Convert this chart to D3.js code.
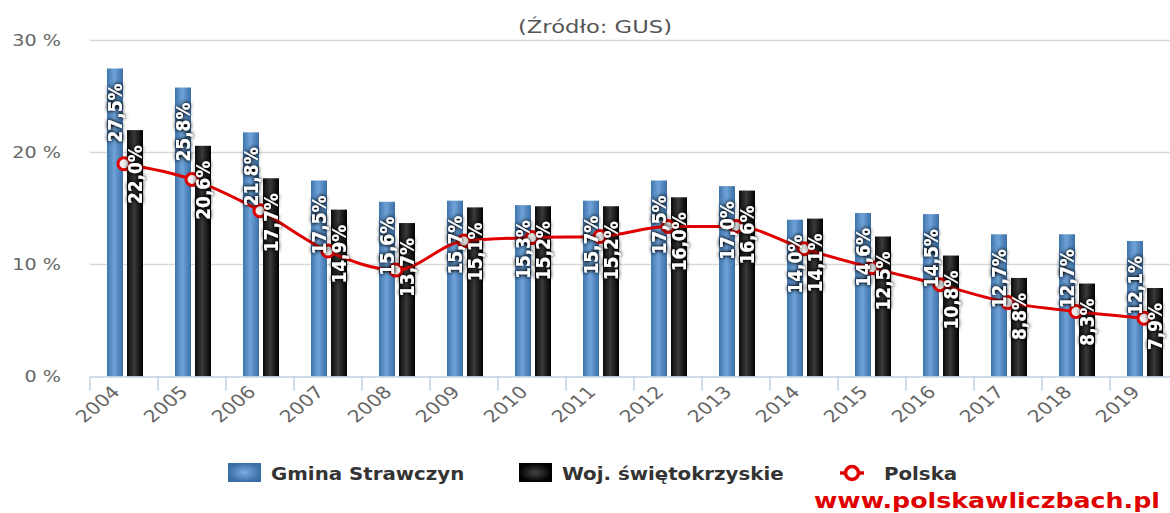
<!DOCTYPE html>
<html>
<head>
<meta charset="utf-8">
<script src="https://cdn.jsdelivr.net/npm/d3@7"></script>
<style>
html,body{margin:0;padding:0;background:#fff;}
svg{display:block;}
text{font-family:"DejaVu Sans",Verdana,sans-serif;}
</style>
</head>
<body>
<svg id="chart" width="1170" height="513"></svg>
<script>
const years = ['2004','2005','2006','2007','2008','2009','2010','2011','2012','2013','2014','2015','2016','2017','2018','2019'];
const gmina = [27.5,25.8,21.8,17.5,15.6,15.7,15.3,15.7,17.5,17.0,14.0,14.6,14.5,12.7,12.7,12.1];
const woj = [22.0,20.6,17.7,14.9,13.7,15.1,15.2,15.2,16.0,16.6,14.1,12.5,10.8,8.8,8.3,7.9];
const polska = [19.0,17.6,14.8,11.2,9.5,12.1,12.4,12.5,13.4,13.4,11.4,9.7,8.2,6.6,5.8,5.2];
const yTicks = [0,10,20,30];
const seriesNames = ['Gmina Strawczyn','Woj. świętokrzyskie','Polska'];
const titleText = '(Źródło: GUS)';
const watermark = 'www.polskawliczbach.pl';

const SX = 1.2; // horizontal stretch of the original raster
const svg = d3.select('#chart');
const defs = svg.append('defs');

const gBlue = defs.append('linearGradient').attr('id','gBlue').attr('x1','0').attr('x2','1').attr('y1','0').attr('y2','0');
gBlue.append('stop').attr('offset','0').attr('stop-color','#3f74ad');
gBlue.append('stop').attr('offset','0.45').attr('stop-color','#6fa3d8');
gBlue.append('stop').attr('offset','1').attr('stop-color','#3a6ea6');
const gBlack = defs.append('linearGradient').attr('id','gBlack').attr('x1','0').attr('x2','1').attr('y1','0').attr('y2','0');
gBlack.append('stop').attr('offset','0').attr('stop-color','#0a0a0a');
gBlack.append('stop').attr('offset','0.45').attr('stop-color','#3a3a3a');
gBlack.append('stop').attr('offset','1').attr('stop-color','#000');
const rBlue = defs.append('radialGradient').attr('id','rBlue');
rBlue.append('stop').attr('offset','0').attr('stop-color','#7aaee0');
rBlue.append('stop').attr('offset','1').attr('stop-color','#3a6ea6');
const rBlack = defs.append('radialGradient').attr('id','rBlack');
rBlack.append('stop').attr('offset','0').attr('stop-color','#444');
rBlack.append('stop').attr('offset','1').attr('stop-color','#000');

const shadow = defs.append('filter').attr('id','tshadow').attr('x','-50%').attr('y','-50%').attr('width','200%').attr('height','200%');
shadow.append('feGaussianBlur').attr('in','SourceAlpha').attr('stdDeviation','2').attr('result','b');
shadow.append('feComponentTransfer').attr('in','b').attr('result','b2')
  .append('feFuncA').attr('type','linear').attr('slope','1.6');
const fm = shadow.append('feMerge');
fm.append('feMergeNode').attr('in','b2');
fm.append('feMergeNode').attr('in','SourceGraphic');

const x0 = 90, x1 = 1178;
const x = d3.scaleBand().domain(years).range([x0, x1]).padding(0);
const xs = d3.scaleBand().domain(['g','w']).range([17, 53]).paddingInner(0.2);
const y = d3.scaleLinear().domain([0,30]).range([376.5, 40.5]);

// grid
svg.append('g').selectAll('line').data(yTicks.filter(d=>d>0)).join('line')
  .attr('x1', x0).attr('x2', 1170).attr('y1', d=>y(d)).attr('y2', d=>y(d))
  .attr('stroke','#d9d9d9').attr('stroke-width',1.5);

// y labels
svg.append('g').selectAll('text').data(yTicks).join('text')
  .attr('transform', d=>`translate(61,${y(d)}) scale(${SX},1)`)
  .attr('text-anchor','end').attr('dy','0.36em')
  .attr('font-size',16).attr('fill','#666')
  .text(d=>d+' %');

// title
svg.append('text').attr('transform',`translate(595,33) scale(1.26,1)`)
  .attr('text-anchor','middle').attr('font-size',18).attr('fill','#555')
  .text(titleText);

// bars
const data = years.map((yr,i)=>({yr, g:gmina[i], w:woj[i], p:polska[i]}));
const groups = svg.append('g').selectAll('g').data(data).join('g')
  .attr('transform', d=>`translate(${x(d.yr)},0)`);
groups.append('rect').attr('x', xs('g')).attr('width', xs.bandwidth())
  .attr('y', d=>y(d.g)).attr('height', d=>y(0)-y(d.g)).attr('fill','url(#gBlue)');
groups.append('rect').attr('x', xs('w')).attr('width', xs.bandwidth())
  .attr('y', d=>y(d.w)).attr('height', d=>y(0)-y(d.w)).attr('fill','url(#gBlack)');

// x axis
const xAxis = d3.axisBottom(x).tickSize(0).tickFormat('');
const ax = svg.append('g').attr('transform',`translate(0,${y(0)})`).call(xAxis);
ax.select('.domain').attr('stroke','#c0d0e0').attr('stroke-width',1.5);
svg.append('g').selectAll('line').data(years).join('line')
  .attr('x1', d=>x(d)).attr('x2', d=>x(d)).attr('y1', y(0)).attr('y2', y(0)+14)
  .attr('stroke','#c0d0e0').attr('stroke-width',1.5);
svg.append('g').selectAll('text').data(years).join('text')
  .attr('transform', d=>`translate(${x(d)+x.bandwidth()/2-8},389) scale(${SX},1) rotate(-45)`)
  .attr('text-anchor','end').attr('dy','0.35em')
  .attr('font-size',17).attr('fill','#666')
  .text(d=>d);

// Polska line
const px = d => x(d.yr) + x.bandwidth()/2;
const line = d3.line().x(px).y(d=>y(d.p)).curve(d3.curveMonotoneX);
svg.append('path').datum(data).attr('d', line)
  .attr('fill','none').attr('stroke','#e00000').attr('stroke-width',3);
svg.append('g').selectAll('circle').data(data).join('circle')
  .attr('cx', px).attr('cy', d=>y(d.p)).attr('r',6)
  .attr('fill','#eeeeee').attr('stroke','#e00000').attr('stroke-width',3);

// data labels
const fmt = v => v.toFixed(1).replace('.',',') + '%';
const lab = svg.append('g').attr('filter','url(#tshadow)');
function addLabels(key){
  lab.append('g').selectAll('text').data(data).join('text')
    .attr('transform', d=>`translate(${x(d.yr)+xs(key)+xs.bandwidth()/2},${y(d[key])+15}) scale(1.1,1) rotate(-90)`)
    .attr('text-anchor','end').attr('dy','0.36em')
    .attr('font-size',17).attr('font-weight','bold').attr('fill','#fff')
    .text(d=>fmt(d[key]));
}
addLabels('g');
addLabels('w');

// legend
const leg = svg.append('g');
leg.append('rect').attr('x',228).attr('y',463).attr('width',33).attr('height',19).attr('fill','url(#rBlue)');
leg.append('rect').attr('x',519).attr('y',463).attr('width',33).attr('height',19).attr('fill','url(#rBlack)');
leg.append('line').attr('x1',840).attr('x2',864).attr('y1',473).attr('y2',473).attr('stroke','#e00000').attr('stroke-width',3.5);
leg.append('circle').attr('cx',852).attr('cy',473).attr('r',6.5).attr('fill','#fff').attr('stroke','#e00000').attr('stroke-width',3.5);
const legX = [271, 562, 884];
leg.selectAll('text').data(seriesNames).join('text')
  .attr('transform',(d,i)=>`translate(${legX[i]},480) scale(1.1,1)`)
  .attr('font-size',18).attr('font-weight','bold').attr('fill','#333')
  .text(d=>d);

// watermark
svg.append('text').attr('transform',`translate(814,508) scale(1.15,1)`)
  .attr('font-size',22).attr('font-weight','bold').attr('fill','#e00000')
  .text(watermark);
</script>
</body>
</html>
